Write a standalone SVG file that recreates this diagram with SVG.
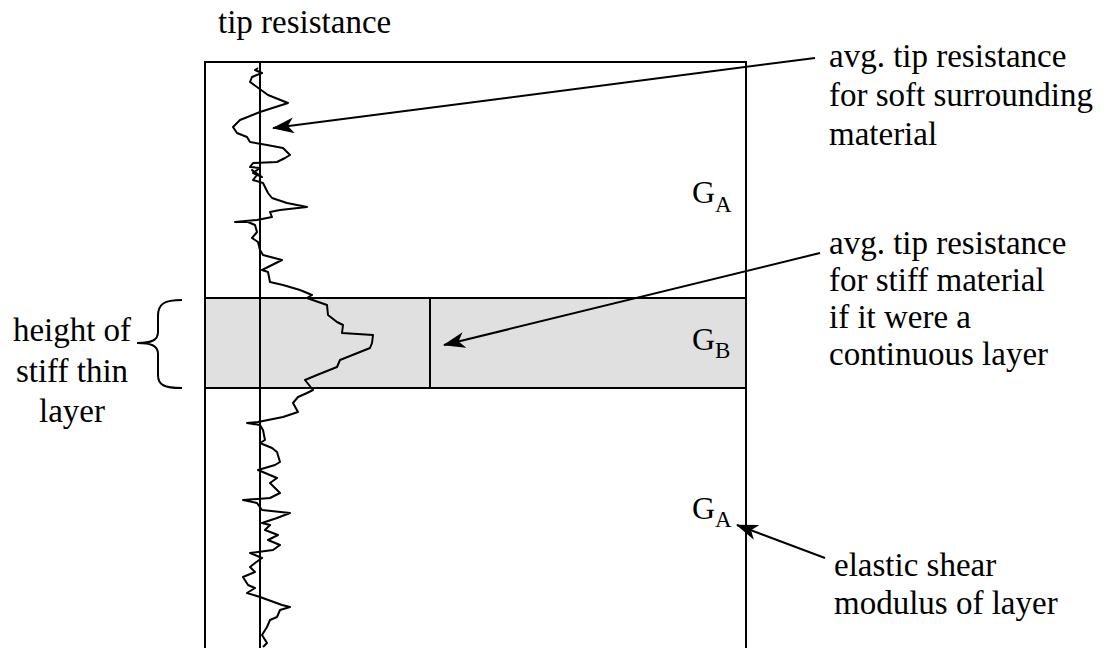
<svg xmlns="http://www.w3.org/2000/svg" width="1112" height="648" viewBox="0 0 1112 648">
<style>
text{font-family:"Liberation Serif","Times New Roman",serif;font-size:33px;fill:#000}
.g{font-size:32px}
.s{font-size:23px}
.ln{stroke:#000;stroke-width:2;fill:none}
.tr{stroke:#000;stroke-width:2;fill:none;stroke-linejoin:round}
</style>
<defs>
<marker id="ah" markerWidth="22" markerHeight="16" refX="21" refY="8" orient="auto" markerUnits="userSpaceOnUse">
<path d="M0,0 L22,8 L0,16 L6,8 Z" fill="#000"/>
</marker>
</defs>
<rect width="1112" height="648" fill="#fff"/>
<g id="box">
<rect x="205" y="62" width="541" height="590" fill="#fff" stroke="#000" stroke-width="2"/>
<rect x="205" y="298" width="541" height="90" fill="#e0e0e0" stroke="#000" stroke-width="2"/>
<line x1="260" y1="62" x2="260" y2="648" class="ln"/>
<line x1="430" y1="298" x2="430" y2="388" class="ln"/>
</g>
<g id="trace">
<polyline class="tr" points="258,68 255,70 262,73 252,77 250,82 268,95 288,103 260,112 240,120 233,127 237,133 247,137 250,142 267,145 283,148 290,155 285,158 277,162 253,163 250,167 260,168 253,173 262,177 252,170 257,175 253,180 263,183 268,193 272,198 287,203 307,207 280,210 270,212 272,217 257,220 235,222 248,222 255,225 257,232 252,238 258,242 260,250 263,255 282,260 262,270 268,272 270,282 283,285 300,290 312,295 307,298 327,305 328,315 337,322 343,325 342,333 373,335 372,343 370,348 340,360 337,367 317,375 305,380 313,390 307,393 298,397 293,403 298,412 283,417 258,422 247,423 260,425 263,430 265,440 260,443 272,448 277,452 280,462 275,465 258,470 277,478 270,483 280,493 270,498 243,500 257,503 262,510 290,513 277,518 262,523 270,525 265,530 278,535 268,540 280,545 273,550 250,553 262,558 255,563 250,567 255,572 243,577 248,585 255,588 247,593 260,597 282,605 290,607 280,610 277,617 270,620 267,627 262,635 267,643 263,647"/>
</g>
<g id="brace">
<path class="ln" d="M182,300 C164,300 158,304 158,316 L158,332 C158,340 152,343 137,343 C152,343 158,346 158,354 L158,375 C158,385 164,388 182,388"/>
</g>
<g id="connectors">
<line x1="815" y1="58" x2="273" y2="128" class="ln" marker-end="url(#ah)"/>
<line x1="820" y1="253" x2="444" y2="345" class="ln" marker-end="url(#ah)"/>
<line x1="825" y1="558" x2="737" y2="525" class="ln" marker-end="url(#ah)"/>
</g>
<g id="labels">
<text x="218" y="33">tip resistance</text>
<text x="829" y="67">avg. tip resistance</text>
<text x="829" y="106">for soft surrounding</text>
<text x="829" y="145">material</text>
<text x="829" y="254">avg. tip resistance</text>
<text x="829" y="291">for stiff material</text>
<text x="829" y="328">if it were a</text>
<text x="829" y="365">continuous layer</text>
<text x="834" y="576">elastic shear</text>
<text x="834" y="614">modulus of layer</text>
<text x="72" y="341" text-anchor="middle">height of</text>
<text x="72" y="382" text-anchor="middle">stiff thin</text>
<text x="72" y="422" text-anchor="middle">layer</text>
</g>
<g id="moduli">
<text x="692" y="203" class="g">G<tspan class="s" dy="9">A</tspan></text>
<text x="692" y="350" class="g">G<tspan class="s" dy="8">B</tspan></text>
<text x="692" y="519" class="g">G<tspan class="s" dy="8">A</tspan></text>
</g>
</svg>
